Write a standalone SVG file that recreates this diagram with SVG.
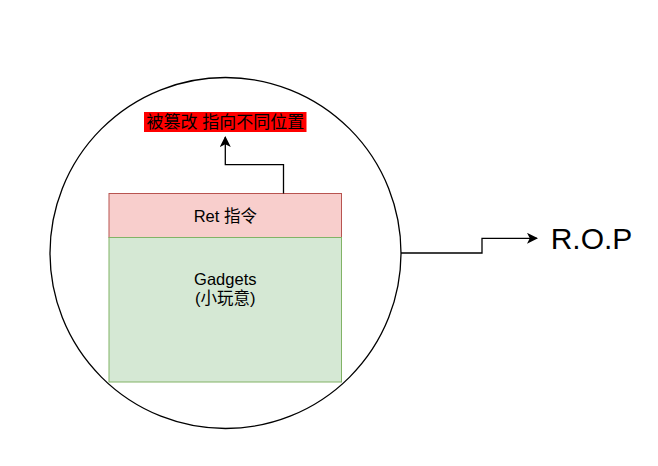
<svg xmlns="http://www.w3.org/2000/svg" width="658" height="466" viewBox="0 0 658 466">
<defs>
<style>
.t{font-family:"Liberation Sans","Noto Sans CJK SC",sans-serif;fill:#000;text-anchor:middle}
.c{fill:none;stroke:#000;stroke-width:1.3}
</style>
<marker id="ah" markerWidth="11" markerHeight="11" refX="10" refY="5.5" orient="auto" markerUnits="userSpaceOnUse">
<path d="M0,0 L11,5.5 L0,11 L2.8,5.5 Z" fill="#000"/>
</marker>
</defs>
<rect width="658" height="466" fill="#fff"/>
<g id="circle"><circle cx="225.5" cy="253" r="175.5" fill="#fff" stroke="#000" stroke-width="1.3"/></g>
<g id="ret"><rect x="109" y="193.5" width="232.5" height="44" fill="#f8cecc" stroke="#b85450"/><text class="t" x="225.3" y="221.5" font-size="16.5">Ret 指令</text></g>
<g id="gadgets"><rect x="109" y="237.5" width="232.5" height="144.5" fill="#d5e8d4" stroke="#82b366"/><text class="t" x="225.3" y="285" font-size="16.5">Gadgets</text><text class="t" x="225.3" y="304" font-size="16.5">(小玩意)</text></g>
<g id="label"><rect x="144" y="112" width="162.5" height="20" fill="#ff0000"/><text class="t" x="225.3" y="128" font-size="17">被篡改 指向不同位置</text></g>
<g id="rop"><text class="t" x="591.5" y="249" font-size="30">R.O.P</text></g>
<g id="connectors">
<path class="c" d="M283.5,193.5 V164.7 H225.3 V137" marker-end="url(#ah)"/>
<path class="c" d="M401,253 H482 V238.3 H537" marker-end="url(#ah)"/>
</g>
</svg>
